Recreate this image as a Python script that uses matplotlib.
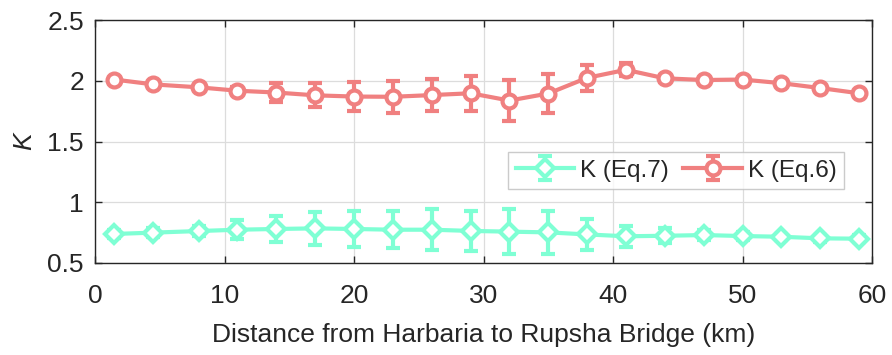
import matplotlib
matplotlib.use("Agg")
import matplotlib.pyplot as plt

dist = [1.5, 4.5, 8, 11, 14, 17, 20, 23, 26, 29, 32, 35, 38, 41, 44, 47, 50, 53, 56, 59]
k_eq6 = [2.01, 1.97, 1.946, 1.918, 1.903, 1.88, 1.87, 1.868, 1.882, 1.897, 1.837, 1.895,
         2.024, 2.09, 2.02, 2.006, 2.01, 1.98, 1.94, 1.897]
err_eq6 = [0.012, 0.02, 0.02, 0.03, 0.076, 0.1, 0.117, 0.13, 0.135, 0.143, 0.169, 0.158,
           0.106, 0.052, 0.03, 0.02, 0.012, 0.02, 0.015, 0.012]
k_eq7 = [0.739, 0.75, 0.763, 0.774, 0.78, 0.785, 0.78, 0.774, 0.774, 0.764, 0.758, 0.752,
         0.735, 0.72, 0.724, 0.73, 0.722, 0.716, 0.703, 0.70]
err_eq7 = [0.03, 0.04, 0.04, 0.08, 0.106, 0.137, 0.15, 0.15, 0.171, 0.167, 0.184, 0.178,
           0.128, 0.085, 0.062, 0.04, 0.03, 0.025, 0.03, 0.03]

plt.rcParams['font.family'] = ['Liberation Sans', 'DejaVu Sans']

fig = plt.figure(figsize=(8.92, 3.55), dpi=100)
ax = fig.add_axes([95/892, 1-263/355, (872-95)/892, (263-20)/355])

green = '#7FFFD4'
red = '#F08080'

h7 = ax.errorbar(dist, k_eq7, yerr=err_eq7, color=green, lw=3, marker='D', ms=9,
                 mfc='white', mec=green, mew=3, capsize=5, capthick=3, elinewidth=3,
                 label='K (Eq.7)', zorder=3)
h6 = ax.errorbar(dist, k_eq6, yerr=err_eq6, color=red, lw=3, marker='o', ms=10,
                 mfc='white', mec=red, mew=3, capsize=5, capthick=3, elinewidth=3,
                 label='K (Eq.6)', zorder=3)

ax.set_xlim(0, 60)
ax.set_ylim(0.5, 2.5)
ax.set_xticks([0, 10, 20, 30, 40, 50, 60])
ax.set_yticks([0.5, 1, 1.5, 2, 2.5])
ax.set_yticklabels(['0.5', '1', '1.5', '2', '2.5'])
ax.grid(True, color='#dcdcdc', lw=0.9, zorder=0)
ax.set_axisbelow(True)
ax.tick_params(direction='in', length=5, width=1, labelsize=19, colors='#262626',
               top=True, right=True)
ax.tick_params(axis='x', pad=15)
ax.tick_params(axis='y', pad=8)
for s in ax.spines.values():
    s.set_color('#262626')
    s.set_linewidth(1)

ax.set_xlabel('Distance from Harbaria to Rupsha Bridge (km)', fontsize=19, color='#262626', labelpad=11)
ax.set_ylabel('K', fontsize=19, style='italic', color='#262626', labelpad=8)

leg = ax.legend(handles=[h7, h6], ncol=2, loc='upper left', bbox_to_anchor=(0.532, 0.455),
                fontsize=17.5, frameon=True, fancybox=False, edgecolor='#bfbfbf',
                handlelength=2.4, handletextpad=0.25, columnspacing=0.6, borderpad=0.3,
                borderaxespad=0)
leg.get_frame().set_linewidth(1)
for t in leg.get_texts():
    t.set_color('#262626')

fig.savefig('out.png', dpi=100)
